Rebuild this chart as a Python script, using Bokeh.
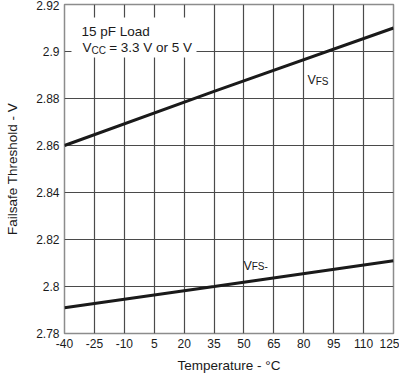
from bokeh.plotting import figure
from bokeh.models import Label, BoxAnnotation, FixedTicker, Range1d
from bokeh.embed import file_html
from bokeh.resources import INLINE

# ---- data ----
x_ticks = [-40, -25, -10, 5, 20, 35, 50, 65, 80, 95, 110, 125]
x_tick_labels = ["-40", "-25", "-10", "5", "20", "35", "50", "65", "80", "95", "110", "125"]
y_ticks = [2.78, 2.80, 2.82, 2.84, 2.86, 2.88, 2.90, 2.92]
y_tick_labels = ["2.78", "2.8", "2.82", "2.84", "2.86", "2.88", "2.9", "2.92"]
temperature = [-40, 35, 125]
vfs = [2.860, 2.883, 2.910]
vfs_minus = [2.791, 2.800, 2.811]

FONT = "Liberation Sans"
INK = "#1a1a1a"

p = figure(width=399, height=375, output_backend="svg", toolbar_location=None,
           x_range=Range1d(-40, 125), y_range=Range1d(2.78, 2.92),
           min_border_left=64, min_border_right=6, min_border_top=4, min_border_bottom=42)
p.styles = {"position": "absolute", "top": "0px", "left": "0px"}
p.background_fill_color = "white"
p.border_fill_color = "white"
p.outline_line_color = "#8c8c8c"
p.outline_line_width = 1.5

p.xaxis.ticker = FixedTicker(ticks=x_ticks)
p.xaxis.major_label_overrides = {t: l for t, l in zip(x_ticks, x_tick_labels)}
p.yaxis.ticker = FixedTicker(ticks=y_ticks)
p.yaxis.major_label_overrides = {t: l for t, l in zip(y_ticks, y_tick_labels)}

for ax in (p.xaxis[0], p.yaxis[0]):
    ax.axis_line_color = None
    ax.major_tick_line_color = None
    ax.minor_tick_line_color = None
    ax.major_tick_in = 0
    ax.major_tick_out = 0
    ax.minor_tick_in = 0
    ax.minor_tick_out = 0
    ax.major_label_text_font = FONT
    ax.major_label_text_font_size = "12px"
    ax.major_label_text_color = INK
    ax.axis_label_text_font = FONT
    ax.axis_label_text_font_size = "13.5px"
    ax.axis_label_text_font_style = "normal"
    ax.axis_label_text_color = INK

p.xaxis.axis_label = "Temperature - °C"
p.yaxis.axis_label = "Failsafe Threshold - V"
p.xaxis.major_label_standoff = 5
p.xaxis.axis_label_standoff = 7
p.yaxis.major_label_standoff = 5
p.yaxis.axis_label_standoff = 13

for g in (p.xgrid[0], p.ygrid[0]):
    g.grid_line_color = "#4a4a4a"
    g.grid_line_width = 1.2

p.line(temperature, vfs, line_color=INK, line_width=3)
p.line(temperature, vfs_minus, line_color=INK, line_width=3)

# white box behind the condition text
p.add_layout(BoxAnnotation(left=-36.5, right=26.2, top=2.9145, bottom=2.8974,
                           fill_color="white", fill_alpha=1, line_color=None, level="overlay"))

def lab(x, y, text, size):
    p.add_layout(Label(x=x, y=y, text=text, text_font=FONT, text_font_size=size,
                       text_color=INK, text_baseline="alphabetic", text_align="left",
                       level="overlay"))

lab(-31.5, 2.9083, "15 pF Load", "13.5px")
lab(-31.0, 2.9015, "V", "13.5px")
lab(-26.4, 2.9004, "CC", "10px")
lab(-17.6, 2.9015, "= 3.3 V or 5 V", "13.5px")

lab(81.9, 2.8877, "V", "12.5px")
lab(86.0, 2.8872, "FS", "10px")

lab(49.8, 2.8089, "V", "12.5px")
lab(53.9, 2.8085, "FS-", "10px")

open("out.html", "w").write(file_html(p, INLINE))
